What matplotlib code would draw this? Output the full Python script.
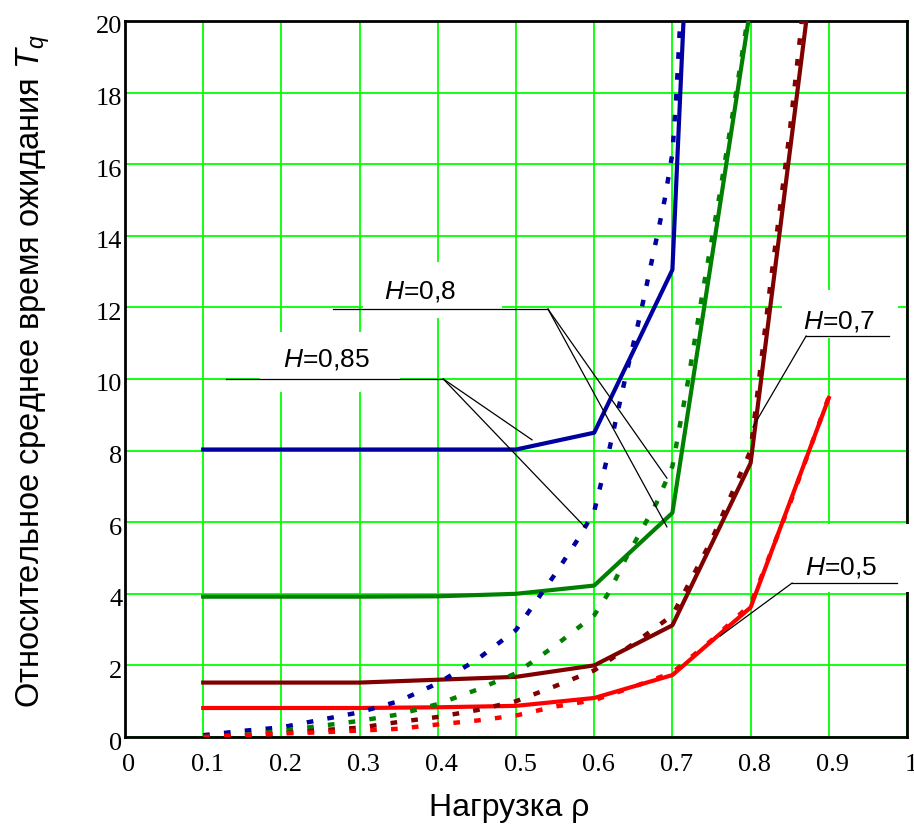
import matplotlib
matplotlib.use("Agg")
import matplotlib.pyplot as plt
import matplotlib.transforms as mtransforms
from matplotlib.patches import Rectangle

plt.rcParams['font.family'] = ['Liberation Sans', 'DejaVu Sans']
plt.rcParams['mathtext.fontset'] = 'custom'
plt.rcParams['mathtext.rm'] = 'Liberation Sans'
plt.rcParams['mathtext.it'] = 'Liberation Sans:italic'

# load values (exact model, solid lines)
rho = [0.1, 0.2, 0.3, 0.4, 0.5, 0.6, 0.7, 0.8, 0.9]
tq_h085 = [8.03, 8.03, 8.03, 8.03, 8.03, 8.5, 13.05, 62.0, 250.0]
tq_h08 = [3.92, 3.92, 3.92, 3.93, 4.0, 4.23, 6.26, 20.4, 75.0]
tq_h07 = [1.52, 1.52, 1.52, 1.6, 1.68, 2.0, 3.12, 7.65, 25.0]
tq_h05 = [0.81, 0.81, 0.81, 0.83, 0.87, 1.09, 1.73, 3.62, 9.47]

# approximation (dotted lines)
rho_a085 = [0.1, 0.15, 0.2, 0.25, 0.3, 0.35, 0.4, 0.45, 0.5, 0.55, 0.58, 0.6,
            0.62, 0.64, 0.66, 0.68, 0.69, 0.7, 0.705, 0.71, 0.72]
tq_a085 = [0.05, 0.17, 0.27, 0.48, 0.69, 1.0, 1.5, 2.16, 2.99, 4.55, 5.55, 6.3,
           8.1, 10.05, 11.9, 13.95, 15.0, 16.3, 17.9, 20.0, 25.0]
rho_a08 = [0.1, 0.15, 0.2, 0.25, 0.3, 0.35, 0.4, 0.45, 0.5, 0.55, 0.6, 0.62,
           0.64, 0.66, 0.68, 0.7, 0.72, 0.74, 0.76, 0.78, 0.8, 0.82]
tq_a08 = [0.0, 0.05, 0.17, 0.31, 0.45, 0.63, 0.92, 1.32, 1.78, 2.55, 3.4, 4.08,
          4.97, 5.76, 6.55, 7.56, 9.95, 12.6, 15.1, 17.8, 20.6, 26.0]
rho_a07 = [0.1, 0.15, 0.2, 0.25, 0.3, 0.35, 0.4, 0.45, 0.5, 0.55, 0.6, 0.65,
           0.7, 0.75, 0.8, 0.825, 0.85, 0.865, 0.9]
tq_a07 = [0.0, 0.02, 0.1, 0.19, 0.26, 0.42, 0.56, 0.75, 1.0, 1.42, 1.86, 2.6,
          3.4, 5.5, 8.0, 12.6, 16.9, 19.9, 30.0]
rho_a05 = [0.1, 0.15, 0.2, 0.25, 0.3, 0.35, 0.4, 0.45, 0.5, 0.55, 0.6, 0.65,
           0.7, 0.75, 0.8, 0.85, 0.9]
tq_a05 = [0.0, 0.05, 0.1, 0.13, 0.18, 0.23, 0.35, 0.46, 0.6, 0.85, 1.03, 1.4,
          1.8, 2.7, 3.7, 6.5, 9.5]

colors = {'0,85': '#0000A0', '0,8': '#008000', '0,7': '#800000', '0,5': '#FF0000'}

fig = plt.figure(figsize=(9.14, 8.25), dpi=100)
ax = fig.add_axes([125 / 914, 88 / 825, 782 / 914, 716 / 825])

ax.set_xlim(0, 1)
ax.set_ylim(0, 20)
ax.set_xticks([i / 10 for i in range(11)])
ax.set_xticklabels(['0', '0.1', '0.2', '0.3', '0.4', '0.5', '0.6', '0.7', '0.8', '0.9', '1'])
ax.set_yticks(range(0, 21, 2))
ax.grid(True, color='#00FF00', lw=1.3)
ax.set_axisbelow(True)
ax.tick_params(length=0, labelsize=19, pad=2)
ax.tick_params(axis='x', pad=12)
for lab in ax.get_xticklabels() + ax.get_yticklabels():
    lab.set_fontfamily('Liberation Serif')
for lab in ax.get_xticklabels():
    lab.set_transform(lab.get_transform() + mtransforms.ScaledTranslation(4 / 100, 0, fig.dpi_scale_trans))
for lab in ax.get_yticklabels():
    lab.set_transform(lab.get_transform() + mtransforms.ScaledTranslation(0, -4 / 100, fig.dpi_scale_trans))
for sp in ax.spines.values():
    sp.set_linewidth(2)

solid = [('0,85', tq_h085), ('0,8', tq_h08), ('0,7', tq_h07), ('0,5', tq_h05)]
for h, tq in solid:
    ax.plot(rho, tq, color=colors[h], lw=3, zorder=5)

dotted = [('0,85', rho_a085, tq_a085), ('0,8', rho_a08, tq_a08),
          ('0,7', rho_a07, tq_a07), ('0,5', rho_a05, tq_a05)]
for h, r, tq in dotted:
    ax.plot(r, tq, color=colors[h], lw=3.2, ls=(0, (1.5, 3.2)), zorder=5)

# annotation layout: label, text pos, shelf, leader start, targets, white box
annotations = [
    ('0,85', (0.258, 10.34), (0.129, 0.407, 10.0), (0.407, 10.0),
     [(0.5205, 8.3), (0.588, 5.87)], (0.173, 9.64, 0.352, 11.31)),
    ('0,8', (0.377, 12.26), (0.266, 0.541, 11.95), (0.541, 11.95),
     [(0.693, 7.23), (0.693, 5.87)], (0.304, 11.7, 0.482, 13.27)),
    ('0,7', (0.913, 11.42), (0.871, 0.977, 11.2), (0.871, 11.2),
     [(0.803, 8.66)], (0.84, 11.15, 0.988, 12.49)),
    ('0,5', (0.915, 4.55), (0.853, 0.987, 4.3), (0.853, 4.3),
     [(0.761, 2.82)], (0.85, 4.05, 1.004, 5.95)),
]
for h, (tx, ty), (sx0, sx1, sy), (lx, ly), targets, (bx0, by0, bx1, by1) in annotations:
    ax.add_patch(Rectangle((bx0, by0), bx1 - bx0, by1 - by0, facecolor='white',
                           edgecolor='none', zorder=3, clip_on=False))
    ax.text(tx, ty, '$H$=' + h, fontsize=19, ha='center', va='baseline', zorder=6)
    ax.plot([sx0, sx1], [sy, sy], color='black', lw=0.9, zorder=4)
    for px, py in targets:
        ax.plot([lx, px], [ly, py], color='black', lw=0.9, zorder=6)

ax.set_xlabel('Нагрузка ρ', fontsize=23)
ax.xaxis.set_label_coords(0.491, -0.078)
ax.set_ylabel('Относительное среднее время ожидания $T_q$', fontsize=23.5, va='center')
ax.yaxis.set_label_coords((33 - 125) / 782, 0.511)

fig.savefig('out.png', dpi=100)
